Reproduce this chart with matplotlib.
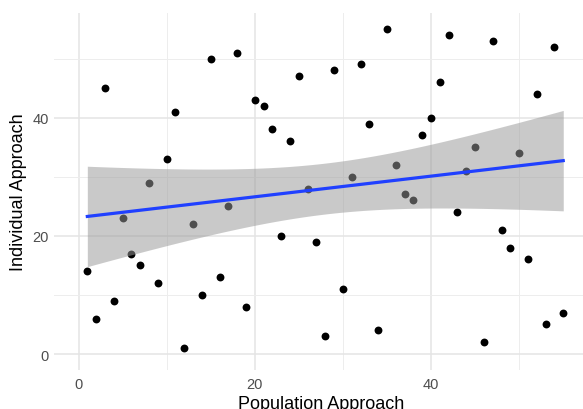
import numpy as np
import matplotlib
matplotlib.use("Agg")
import matplotlib.pyplot as plt

# данные
population = [1, 2, 3, 4, 5, 6, 7, 8, 9, 10, 11, 12, 13, 14, 15, 16, 17, 18, 19, 20,
              21, 22, 23, 24, 25, 26, 27, 28, 29, 30, 31, 32, 33, 34, 35, 36, 37, 38,
              39, 40, 41, 42, 43, 44, 45, 46, 47, 48, 49, 50, 51, 52, 53, 54, 55]
individual = [14, 6, 45, 9, 23, 17, 15, 29, 12, 33, 41, 1, 22, 10, 50, 13, 25, 51, 8, 43,
              42, 38, 20, 36, 47, 28, 19, 3, 48, 11, 30, 49, 39, 4, 55, 32, 27, 26,
              37, 40, 46, 54, 24, 31, 35, 2, 53, 21, 18, 34, 16, 44, 5, 52, 7]
x_ticks = [0, 20, 40]
y_ticks = [0, 20, 40]
minor_ticks = [10, 30, 50]
T_95 = 2.0057  # квантиль t для df = 53

plt.rcParams['font.family'] = ['Liberation Sans', 'DejaVu Sans']

x = np.array(population, dtype=float)
y = np.array(individual, dtype=float)

# линейная регрессия с 95% доверительным интервалом (как geom_smooth(method="lm"))
slope, intercept = np.polyfit(x, y, 1)
resid = y - (slope * x + intercept)
n = len(x)
s = np.sqrt(np.sum(resid ** 2) / (n - 2))
sxx = np.sum((x - x.mean()) ** 2)
xs = np.linspace(x.min(), x.max(), 80)
fit = slope * xs + intercept
se = s * np.sqrt(1 / n + (xs - x.mean()) ** 2 / sxx)

fig = plt.figure(figsize=(5.83, 4.10), dpi=100)
ax = fig.add_axes([0.0931, 0.0944, 0.9146, 0.8722])

ax.scatter(x, y, s=32, color='black', linewidths=0, zorder=3)
ax.fill_between(xs, fit - T_95 * se, fit + T_95 * se, color='#999999', alpha=0.52,
                linewidth=0, zorder=4)
ax.plot(xs, fit, color='#2040FF', linewidth=2.3, zorder=5)

ax.set_xlim(-2.75, 57.75)
ax.set_ylim(-2.75, 57.75)
ax.set_xticks(x_ticks)
ax.set_yticks(y_ticks)
ax.set_xticks(minor_ticks, minor=True)
ax.set_yticks(minor_ticks, minor=True)
ax.grid(True, which='major', color='#E4E4E4', linewidth=1.1, zorder=0)
ax.grid(True, which='minor', color='#EDEDED', linewidth=0.7, zorder=0)
ax.set_axisbelow(True)
ax.tick_params(which='both', length=0, labelsize=10.5, labelcolor='#4D4D4D')
ax.tick_params(axis='x', pad=5)
ax.tick_params(axis='y', pad=4)
for sp in ax.spines.values():
    sp.set_visible(False)

ax.set_xlabel("Population Approach", fontsize=13, labelpad=3)
ax.set_ylabel("Individual Approach", fontsize=13, labelpad=4)

fig.savefig("out.png", dpi=100)
